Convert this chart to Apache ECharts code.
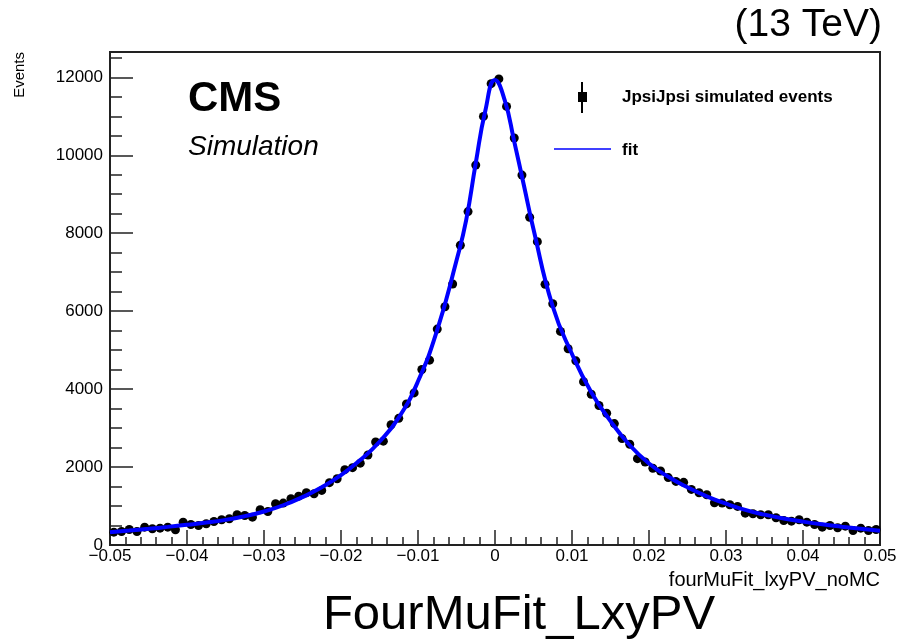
<!DOCTYPE html>
<html><head><meta charset="utf-8">
<script src="https://cdn.jsdelivr.net/npm/echarts@6/dist/echarts.min.js"></script>
<style>html,body{margin:0;padding:0;background:#fff}#c{width:913px;height:642px}</style>
</head><body><div id="c"></div>
<script>
// bin centres of the histogram (fourMuFit_lxyPV_noMC)
const binCenters = [-0.0495,-0.0485,-0.0475,-0.0465,-0.0455,-0.0445,-0.0435,-0.0425,-0.0415,-0.0405,
  -0.0395,-0.0385,-0.0375,-0.0365,-0.0355,-0.0345,-0.0335,-0.0325,-0.0315,-0.0305,
  -0.0295,-0.0285,-0.0275,-0.0265,-0.0255,-0.0245,-0.0235,-0.0225,-0.0215,-0.0205,
  -0.0195,-0.0185,-0.0175,-0.0165,-0.0155,-0.0145,-0.0135,-0.0125,-0.0115,-0.0105,
  -0.0095,-0.0085,-0.0075,-0.0065,-0.0055,-0.0045,-0.0035,-0.0025,-0.0015,-0.0005,
  0.0005,0.0015,0.0025,0.0035,0.0045,0.0055,0.0065,0.0075,0.0085,0.0095,
  0.0105,0.0115,0.0125,0.0135,0.0145,0.0155,0.0165,0.0175,0.0185,0.0195,
  0.0205,0.0215,0.0225,0.0235,0.0245,0.0255,0.0265,0.0275,0.0285,0.0295,
  0.0305,0.0315,0.0325,0.0335,0.0345,0.0355,0.0365,0.0375,0.0385,0.0395,
  0.0405,0.0415,0.0425,0.0435,0.0445,0.0455,0.0465,0.0475,0.0485,0.0495];
// simulated events per bin
const events = [329,347,398,347,458,416,432,458,391,586,
  527,501,545,604,648,673,776,758,715,905,
  861,1059,1075,1188,1254,1342,1316,1401,1600,1700,
  1933,1985,2100,2310,2643,2665,3085,3250,3620,3902,
  4504,4743,5540,6113,6697,7691,8555,9748,10998,11838,
  11959,11254,10442,9491,8411,7784,6689,6190,5480,5035,
  4725,4190,3869,3580,3380,3116,2730,2584,2216,2129,
  1970,1900,1730,1632,1607,1427,1342,1290,1085,1075,
  1033,990,817,802,776,776,699,630,612,648,
  586,527,458,501,442,483,373,432,373,398];
// fit curve samples
const fitX = [-0.05,-0.0475,-0.045,-0.0425,-0.04,-0.0375,-0.035,-0.0325,-0.03,-0.0275,-0.025,-0.0225,-0.02,-0.0175,-0.015,-0.0125,
  -0.01,-0.0075,-0.005,-0.00375,-0.0025,-0.00125,0,0.00125,0.0025,0.00375,0.005,0.0075,0.01,
  0.0125,0.015,0.0175,0.02,0.0225,0.025,0.0275,0.03,0.0325,0.035,0.0375,0.04,0.0425,0.045,0.0475,0.05];
const fitY = [330,370,415,465,520,575,645,740,860,1020,1230,1480,1790,2180,2650,3270,
  4200,5520,7300,8330,9800,11150,11930,11420,10350,9230,8100,6120,4900,
  3920,3180,2560,2090,1750,1480,1250,1060,900,780,680,600,530,470,415,365];

const FONT = '"Liberation Sans", Arial, Helvetica, sans-serif';
const fmtX = v => (Math.round(v * 1000) / 1000).toString().replace('-', '\u2212');
const fmtY = v => String(Math.round(v));

const chart = echarts.init(document.getElementById('c'), null, {renderer: 'canvas'});
const option = {
  animation: false,
  backgroundColor: '#fff',
  grid: {left: 110, right: 33, top: 52, bottom: 97, show: true, borderColor: '#222', borderWidth: 2, backgroundColor: 'transparent'},
  xAxis: {
    type: 'value', min: -0.05, max: 0.05, interval: 0.01,
    axisLine: {show: true, onZero: false, lineStyle: {color: '#222', width: 2}},
    axisTick: {show: true, inside: true, length: 15, lineStyle: {color: '#222', width: 1.5}},
    minorTick: {show: true, splitNumber: 5, length: 8, lineStyle: {color: '#222', width: 1.5}},
    splitLine: {show: false}, minorSplitLine: {show: false},
    axisLabel: {fontFamily: FONT, fontSize: 17, color: '#000', margin: 3, formatter: fmtX}
  },
  yAxis: [{
    type: 'value', min: 0, max: 12650, interval: 2000, position: 'left',
    axisLine: {show: true, onZero: false, lineStyle: {color: '#222', width: 2}},
    axisTick: {show: true, inside: true, length: 23, lineStyle: {color: '#222', width: 1.5}},
    splitLine: {show: false},
    axisLabel: {fontFamily: FONT, fontSize: 17, color: '#000', margin: 7, showMaxLabel: false, formatter: fmtY}
  }, {
    type: 'value', min: 0, max: 12650, interval: 500, position: 'left', offset: 0,
    axisLine: {show: false, onZero: false},
    axisTick: {show: true, inside: true, length: 12, lineStyle: {color: '#222', width: 1.5}},
    splitLine: {show: false},
    axisLabel: {show: false}
  }],
  series: [{
    type: 'scatter', name: 'JpsiJpsi simulated events',
    data: binCenters.map((x, i) => [x, events[i]]),
    symbol: 'circle', symbolSize: 9, itemStyle: {color: '#000', opacity: 1}, z: 2
  }, {
    type: 'line', name: 'fit',
    data: fitX.map((x, i) => [x, fitY[i]]),
    smooth: 0.5, showSymbol: false,
    lineStyle: {color: '#0000ff', width: 4}, z: 3
  }],
  graphic: [
    {type: 'text', x: 882, y: 25, style: {text: '(13 TeV)', font: '39px ' + FONT, fill: '#000', align: 'right', verticalAlign: 'middle'}},
    {type: 'text', x: 188, y: 99, style: {text: 'CMS', font: 'bold 42px ' + FONT, fill: '#000', align: 'left', verticalAlign: 'middle'}},
    {type: 'text', x: 188, y: 147, style: {text: 'Simulation', font: 'italic 28px ' + FONT, fill: '#000', align: 'left', verticalAlign: 'middle'}},
    {type: 'text', x: 20, y: 52, rotation: Math.PI / 2, style: {text: 'Events', font: '15px ' + FONT, fill: '#000', align: 'right', verticalAlign: 'middle'}},
    {type: 'text', x: 880, y: 580, style: {text: 'fourMuFit_lxyPV_noMC', font: '20px ' + FONT, fill: '#000', align: 'right', verticalAlign: 'middle'}},
    {type: 'text', x: 519, y: 615, style: {text: 'FourMuFit_LxyPV', font: '49px ' + FONT, fill: '#000', align: 'center', verticalAlign: 'middle'}},
    {type: 'line', shape: {x1: 582, y1: 82, x2: 582, y2: 113}, style: {stroke: '#000', lineWidth: 2}},
    {type: 'rect', shape: {x: 578, y: 92, width: 9, height: 10}, style: {fill: '#000'}},
    {type: 'text', x: 622, y: 97, style: {text: 'JpsiJpsi simulated events', font: 'bold 17px ' + FONT, fill: '#000', align: 'left', verticalAlign: 'middle'}},
    {type: 'line', shape: {x1: 554, y1: 149, x2: 611, y2: 149}, style: {stroke: '#0000ff', lineWidth: 1.5}},
    {type: 'text', x: 622, y: 150, style: {text: 'fit', font: 'bold 17px ' + FONT, fill: '#000', align: 'left', verticalAlign: 'middle'}}
  ]
};
chart.setOption(option);
</script>
</body></html>
